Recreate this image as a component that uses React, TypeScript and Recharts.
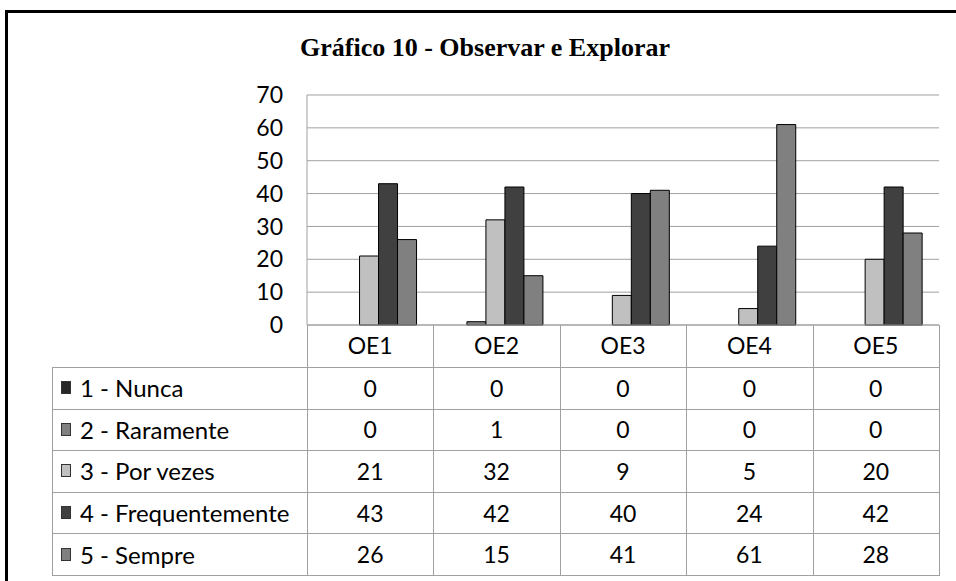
import { BarChart, Bar, XAxis, YAxis, CartesianGrid } from 'recharts'

const categories = ['OE1', 'OE2', 'OE3', 'OE4', 'OE5']
const seriesNames = ['1 - Nunca', '2 - Raramente', '3 - Por vezes', '4 - Frequentemente', '5 - Sempre']
const nunca = [0, 0, 0, 0, 0]
const raramente = [0, 1, 0, 0, 0]
const porVezes = [21, 32, 9, 5, 20]
const frequentemente = [43, 42, 40, 24, 42]
const sempre = [26, 15, 41, 61, 28]
const yTicks = [0, 10, 20, 30, 40, 50, 60, 70]

const seriesValues = [nunca, raramente, porVezes, frequentemente, sempre]
const seriesKeys = ['nunca', 'raramente', 'porVezes', 'frequentemente', 'sempre']
const seriesColors = ['#262626', '#808080', '#c0c0c0', '#404040', '#808080']

const data = categories.map((name, i) => {
  const row: Record<string, string | number> = { name }
  seriesKeys.forEach((k, s) => { row[k] = seriesValues[s][i] })
  return row
})

// layout (px, page coords)
const W = 956
const H = 581
const plotLeft = 307
const plotRight = 939
const plotTop = 95
const axisY = 325
const headerH = 42
const rowH = 41.6
const tableLeft = 52
const gridColor = '#a0a0a0'
const font = 'Lato, "Open Sans", sans-serif'
const fontSize = 23

export default function App() {
  const colW = (plotRight - plotLeft) / categories.length
  const rowsTop = axisY + headerH
  const tableBottom = rowsTop + rowH * seriesNames.length

  const hLines = seriesNames.map((_, i) => rowsTop + i * rowH).concat([tableBottom])
  const vLines = categories.map((_, i) => plotLeft + i * colW).concat([plotRight])

  return (
    <div style={{ position: 'absolute', left: 0, top: 0, width: W, height: H, overflow: 'hidden', background: '#fff', fontFamily: font }}>
      {/* outer frame */}
      <div style={{ position: 'absolute', left: 5, top: 10, width: 1000, height: 700, borderTop: '3px solid #000', borderLeft: '3px solid #000' }} />

      <div style={{
        position: 'absolute', left: 0, width: 970, top: 33, textAlign: 'center',
        fontFamily: '"Liberation Serif", "Times New Roman", serif', fontWeight: 'bold', fontSize: 26, lineHeight: '30px'
      }}>
        Gráfico 10 - Observar e Explorar
      </div>

      <div style={{ position: 'absolute', left: 0, top: 0 }}>
        <BarChart
          width={W}
          height={H}
          data={data}
          margin={{ top: plotTop, right: W - plotRight, bottom: H - axisY - headerH, left: plotLeft - 60 }}
          barCategoryGap="11.5%"
          barGap={0}
        >
          <CartesianGrid vertical={false} stroke={gridColor} />
          <XAxis
            dataKey="name"
            height={headerH}
            axisLine={{ stroke: gridColor }}
            tickLine={false}
            tickSize={0}
            tickMargin={13}
            tick={{ fill: '#000', fontSize, fontFamily: font }}
          />
          <YAxis
            width={60}
            domain={[0, 70]}
            ticks={yTicks}
            axisLine={{ stroke: gridColor }}
            tickLine={false}
            tickSize={0}
            tickMargin={24}
            tick={{ fill: '#000', fontSize, fontFamily: font }}
          />
          {seriesKeys.map((k, s) => (
            <Bar
              key={k}
              dataKey={k}
              name={seriesNames[s]}
              fill={seriesColors[s]}
              stroke="#000"
              strokeWidth={1}
              isAnimationActive={false}
            />
          ))}
        </BarChart>
      </div>

      {/* data table below the axis */}
      {hLines.map((y, i) => (
        <div key={`h${i}`} style={{ position: 'absolute', left: tableLeft, top: y, width: plotRight - tableLeft + 1, height: 1, background: gridColor }} />
      ))}
      <div style={{ position: 'absolute', left: tableLeft, top: rowsTop, width: 1, height: tableBottom - rowsTop, background: gridColor }} />
      {vLines.map((x, i) => (
        <div key={`v${i}`} style={{ position: 'absolute', left: x, top: axisY, width: 1, height: tableBottom - axisY, background: gridColor }} />
      ))}

      {seriesNames.map((label, s) => (
        <div key={label} style={{ position: 'absolute', left: tableLeft, top: rowsTop + s * rowH, width: plotLeft - tableLeft, height: rowH, display: 'flex', alignItems: 'center' }}>
          <span style={{ display: 'inline-block', marginLeft: 9, width: 8, height: 11, background: seriesColors[s], border: '1px solid #333' }} />
          <span style={{ marginLeft: 9, fontSize: 24, color: '#000', whiteSpace: 'nowrap' }}>{label}</span>
        </div>
      ))}

      {seriesValues.map((vals, s) =>
        vals.map((v, i) => (
          <div key={`${s}-${i}`} style={{
            position: 'absolute', left: plotLeft + i * colW, top: rowsTop + s * rowH, width: colW, height: rowH,
            display: 'flex', alignItems: 'center', justifyContent: 'center', fontSize, color: '#000'
          }}>
            {v}
          </div>
        ))
      )}
    </div>
  )
}
